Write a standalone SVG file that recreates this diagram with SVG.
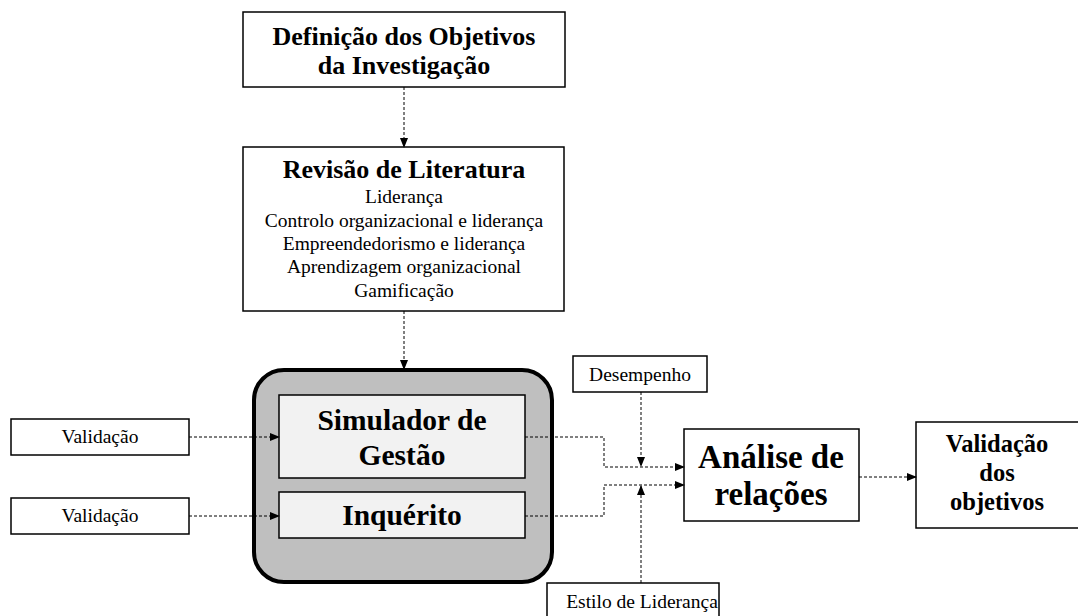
<svg xmlns="http://www.w3.org/2000/svg" width="1078" height="616" viewBox="0 0 1078 616">
<style>
.box{fill:#fff;stroke:#000;stroke-width:1.5}
.inner{fill:#f2f2f2;stroke:#000;stroke-width:1.5}
.t{font-family:"Liberation Serif","Times New Roman",serif;text-anchor:middle;fill:#000}
.b{font-weight:bold}
.s{font-size:19.5px}
.c{fill:none;stroke:#000;stroke-width:1;stroke-dasharray:3,2}
</style>
<defs>
<marker id="ah" markerWidth="10" markerHeight="8" refX="9" refY="4" orient="auto" markerUnits="userSpaceOnUse">
<path d="M0,0 L10,4 L0,8 Z" fill="#000"/>
</marker>
</defs>
<rect width="1078" height="616" fill="#fff"/>
<g id="objetivos">
<rect class="box" x="243" y="12" width="322" height="75"/>
<text class="t b" x="404" y="45" font-size="26">Definição dos Objetivos</text>
<text class="t b" x="404" y="74" font-size="26">da Investigação</text>
</g>
<g id="revisao">
<rect class="box" x="243" y="147" width="321" height="164"/>
<text class="t b" x="404" y="178" font-size="26">Revisão de Literatura</text>
<text class="t s" x="404" y="203">Liderança</text>
<text class="t s" x="404" y="227">Controlo organizacional e liderança</text>
<text class="t s" x="404" y="250">Empreendedorismo e liderança</text>
<text class="t s" x="404" y="273">Aprendizagem organizacional</text>
<text class="t s" x="404" y="297">Gamificação</text>
</g>
<g id="grupo">
<rect x="254" y="370" width="298" height="212" rx="30" ry="30" fill="#bfbfbf" stroke="#000" stroke-width="4"/>
</g>
<g id="simulador">
<rect class="inner" x="279" y="395" width="246" height="83"/>
<text class="t b" x="402" y="430" font-size="29.5">Simulador de</text>
<text class="t b" x="402" y="465" font-size="29.5">Gestão</text>
</g>
<g id="inquerito">
<rect class="inner" x="279" y="492" width="246" height="46"/>
<text class="t b" x="402" y="525" font-size="29.5">Inquérito</text>
</g>
<g id="validacao1">
<rect class="box" x="11" y="419" width="178" height="36"/>
<text class="t s" x="100" y="443">Validação</text>
</g>
<g id="validacao2">
<rect class="box" x="11" y="498" width="178" height="36"/>
<text class="t s" x="100" y="522">Validação</text>
</g>
<g id="desempenho">
<rect class="box" x="573" y="356" width="134" height="36"/>
<text class="t s" x="640" y="381">Desempenho</text>
</g>
<g id="estilo">
<rect class="box" x="547" y="583" width="172" height="40"/>
<text class="t s" x="642" y="608">Estilo de Liderança</text>
</g>
<g id="analise">
<rect class="box" x="684" y="429" width="175" height="92"/>
<text class="t b" x="771" y="468" font-size="33">Análise de</text>
<text class="t b" x="771" y="505" font-size="33">relações</text>
</g>
<g id="validacao-objetivos">
<rect class="box" x="916" y="422" width="170" height="106"/>
<text class="t b" x="997" y="452" font-size="24.5">Validação</text>
<text class="t b" x="997" y="481" font-size="24.5">dos</text>
<text class="t b" x="997" y="510" font-size="24.5">objetivos</text>
</g>
<g id="connectors">
<path class="c" d="M404,87 V147" marker-end="url(#ah)"/>
<path class="c" d="M404,311 V369" marker-end="url(#ah)"/>
<path class="c" d="M189,437 H279" marker-end="url(#ah)"/>
<path class="c" d="M189,516 H279" marker-end="url(#ah)"/>
<path class="c" d="M525,437 H604 V467 H684" marker-end="url(#ah)"/>
<path class="c" d="M525,516 H604 V485 H684" marker-end="url(#ah)"/>
<path class="c" d="M641,392 V466" marker-end="url(#ah)"/>
<path class="c" d="M641,583 V486" marker-end="url(#ah)"/>
<path class="c" d="M859,477 H916" marker-end="url(#ah)"/>
</g>
</svg>
